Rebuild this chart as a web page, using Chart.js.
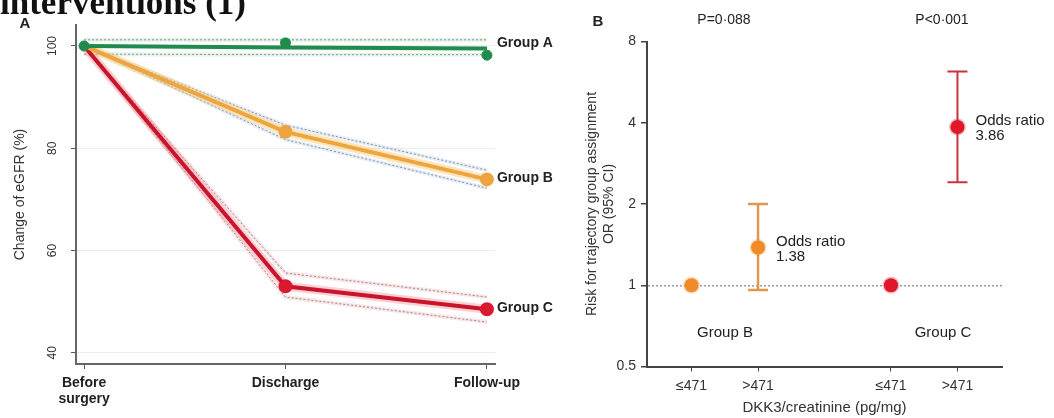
<!DOCTYPE html>
<html><head><meta charset="utf-8">
<script src="https://cdn.jsdelivr.net/npm/chart.js@4.4.1/dist/chart.umd.min.js"></script>
<style>
html,body{margin:0;padding:0;background:#fff;width:1054px;height:418px;overflow:hidden;position:relative;font-family:"Liberation Sans",Arial,sans-serif}
#title{position:absolute;left:0;top:-15px;font:bold 35px/35px "Liberation Serif","Times New Roman",serif;color:#111;white-space:nowrap;z-index:2}
#wa{position:absolute;left:0;top:0;width:560px;height:418px}
#wb{position:absolute;left:560px;top:0;width:494px;height:418px}
</style></head><body>
<div id="title">interventions (1)</div>
<div id="wa"><canvas id="ca" width="560" height="418"></canvas></div>
<div id="wb"><canvas id="cb" width="494" height="418"></canvas></div>
<script>
// ---------- Panel A data ----------
const timepoints = [['Before', 'surgery'], 'Discharge', 'Follow-up'];
const timeIndex = [0, 1, 2];
const groupNamesA = ['Group A', 'Group B', 'Group C'];
const groupATrend = [100, 99.7, 99.5];
const groupAObserved = [100, 100.6, 98.2];
const groupAUpper = [101.2, 101.2, 101.2];
const groupALower = [98.4, 98.3, 98.3];
const groupB = [100, 83.2, 73.9];
const groupBUpper = [100, 84.5, 75.7];
const groupBLower = [100, 81.7, 72.2];
const groupC = [100, 53.0, 48.5];
const groupCUpper = [100, 55.6, 50.9];
const groupCLower = [100, 50.9, 46.0];
const yTicksA = [40, 60, 80, 100];

// ---------- Panel B data ----------
const dkkLabels = ['\u2264471', '>471', '\u2264471', '>471'];
const dkkIndex = [0, 1, 3, 4];
const groupBOR = [1, 1.38];
const groupBLow = [null, 0.96];
const groupBHigh = [null, 2.0];
const groupCOR = [1, 3.86];
const groupCLow = [null, 2.41];
const groupCHigh = [null, 6.2];
const yTicksB = [0.5, 1, 2, 4, 8];
const pValues = ['P=0\u00b7088', 'P<0\u00b7001'];
const panelBGroups = ['Group B', 'Group C'];

const FONT = '"Liberation Sans", Arial, sans-serif';
Chart.defaults.font.family = FONT;
Chart.defaults.animation = false;

const pts = (xs, ys) => xs.map((x, i) => ({x: x, y: ys[i]}));

const GREEN = '#1f8b4c', ORANGE = '#eea43f', RED = '#c8142c', REDPT = '#d91a2e';

function ciSets(arr, halo, order) {
  return [
    {data: pts(timeIndex, arr), borderColor: '#8d8d8d', borderWidth: 1, borderDash: [2, 2], pointRadius: 0, order: order},
    {data: pts(timeIndex, arr), borderColor: halo, borderWidth: 4, pointRadius: 0, order: order + 1}
  ];
}

const labelsA = {
  id: 'labelsA',
  afterDraw(chart) {
    const {ctx, scales: {x, y}} = chart;
    ctx.save();
    ctx.fillStyle = '#222';
    ctx.textBaseline = 'middle';
    ctx.textAlign = 'left';
    ctx.font = 'bold 14px ' + FONT;
    const ends = [groupATrend, groupB, groupC];
    const dy = [-5, -1, -1];
    ends.forEach((arr, i) => {
      ctx.fillText(groupNamesA[i], x.getPixelForValue(timeIndex[2]) + 10, y.getPixelForValue(arr[2]) + dy[i]);
    });
    ctx.font = 'bold 15px ' + FONT;
    ctx.textAlign = 'center';
    ctx.fillText('A', 25, 24);
    ctx.restore();
  }
};

new Chart(document.getElementById('ca'), {
  type: 'line',
  data: {
    datasets: [
      {data: pts(timeIndex, groupAObserved), showLine: false, pointRadius: 5, pointBackgroundColor: GREEN, pointBorderColor: GREEN, borderColor: GREEN, order: 0},
      {data: pts(timeIndex, groupATrend), borderColor: GREEN, borderWidth: 4, pointRadius: 0, order: 1},
      {data: pts(timeIndex, groupB), borderColor: ORANGE, borderWidth: 4, pointRadius: [0, 5, 5], pointBackgroundColor: ORANGE, pointBorderColor: ORANGE, order: 2},
      {data: pts(timeIndex, groupC), borderColor: RED, borderWidth: 4, pointRadius: [0, 5, 5], pointBackgroundColor: REDPT, pointBorderColor: REDPT, order: 3},
      {data: pts(timeIndex, groupB), borderColor: 'rgba(246,200,110,0.45)', borderWidth: 9, pointRadius: 0, order: 4},
      {data: pts(timeIndex, groupC), borderColor: 'rgba(240,120,130,0.35)', borderWidth: 9, pointRadius: 0, order: 5},
      ...ciSets(groupAUpper, 'rgba(150,210,170,0.25)', 6),
      ...ciSets(groupALower, 'rgba(150,210,170,0.25)', 6),
      ...ciSets(groupBUpper, 'rgba(170,200,235,0.3)', 6),
      ...ciSets(groupBLower, 'rgba(170,200,235,0.3)', 6),
      ...ciSets(groupCUpper, 'rgba(245,170,175,0.3)', 6),
      ...ciSets(groupCLower, 'rgba(245,170,175,0.3)', 6)
    ]
  },
  options: {
    responsive: false,
    events: [],
    layout: {padding: {left: 0, top: 25, right: 65, bottom: 0}},
    plugins: {legend: {display: false}, tooltip: {enabled: false}},
    scales: {
      x: {
        type: 'linear', min: -0.04, max: 2.04,
        afterBuildTicks: s => { s.ticks = timeIndex.map(v => ({value: v})); },
        ticks: {callback: (v, i) => timepoints[i], color: '#222', font: {size: 14, weight: 'bold', lineHeight: 1.15}, padding: 6, maxRotation: 0, autoSkip: false},
        grid: {drawOnChartArea: false, tickLength: 5, tickColor: '#555'},
        border: {color: '#666', width: 2},
        afterFit: s => { s.height = 54; }
      },
      y: {
        type: 'linear', min: 37.8, max: 104.1,
        afterBuildTicks: s => { s.ticks = yTicksA.map(v => ({value: v})); },
        ticks: {minRotation: 90, maxRotation: 90, crossAlign: 'center', padding: 8, color: '#333', font: {size: 12}},
        grid: {color: '#ececec', tickColor: '#555', tickLength: 5},
        border: {color: '#666', width: 2},
        title: {display: true, text: 'Change of eGFR (%)', color: '#333', font: {size: 14}, padding: {top: 12, bottom: 0}},
        afterFit: s => { s.width = 76; }
      }
    }
  },
  plugins: [labelsA]
});

// ---------- Panel B ----------
const labelsB = {
  id: 'labelsB',
  afterDraw(chart) {
    const {ctx, scales: {x, y}} = chart;
    ctx.save();
    ctx.fillStyle = '#222';
    ctx.textBaseline = 'middle';
    ctx.font = 'bold 15px ' + FONT;
    ctx.textAlign = 'center';
    ctx.fillText('B', 38, 22);
    ctx.font = '14px ' + FONT;
    ctx.fillText(pValues[0], 164, 20);
    ctx.fillText(pValues[1], 382, 20);
    ctx.font = '15px ' + FONT;
    ctx.fillText(panelBGroups[0], 165, 333);
    ctx.fillText(panelBGroups[1], 383, 333);
    ctx.textAlign = 'left';
    const ors = [[dkkIndex[1], groupBOR[1]], [dkkIndex[3], groupCOR[1]]];
    ors.forEach(([xv, yv]) => {
      const px = x.getPixelForValue(xv) + 18, py = y.getPixelForValue(yv);
      ctx.fillText('Odds ratio', px, py - 6);
      ctx.fillText(yv.toFixed(2), px, py + 9);
    });
    ctx.restore();
  }
};

new Chart(document.getElementById('cb'), {
  type: 'line',
  data: {
    datasets: [
      {data: pts(dkkIndex.slice(0, 2), groupBOR), showLine: false, pointRadius: 7, pointBackgroundColor: '#f08c28', pointBorderColor: 'rgba(240,140,40,0.3)', pointBorderWidth: 3, order: 0},
      {data: pts(dkkIndex.slice(2, 4), groupCOR), showLine: false, pointRadius: 7, pointBackgroundColor: '#e0182a', pointBorderColor: 'rgba(224,24,42,0.3)', pointBorderWidth: 3, order: 0},
      {data: [{x: dkkIndex[1], y: groupBLow[1]}, {x: dkkIndex[1], y: groupBHigh[1]}], borderColor: '#e2964c', borderWidth: 2.5, pointStyle: 'line', pointRadius: 10, pointBorderWidth: 2.5, pointBorderColor: '#e2964c', order: 1},
      {data: [{x: dkkIndex[3], y: groupCLow[1]}, {x: dkkIndex[3], y: groupCHigh[1]}], borderColor: '#c9333f', borderWidth: 2, pointStyle: 'line', pointRadius: 10, pointBorderWidth: 2, pointBorderColor: '#c9333f', order: 1}
    ]
  },
  options: {
    responsive: false,
    events: [],
    layout: {padding: {left: 0, top: 41.5, right: 52, bottom: 0}},
    plugins: {legend: {display: false}, tooltip: {enabled: false}},
    scales: {
      x: {
        type: 'linear', min: -0.67, max: 4.67,
        afterBuildTicks: s => { s.ticks = dkkIndex.map(v => ({value: v})); },
        ticks: {callback: (v, i) => dkkLabels[i], color: '#333', font: {size: 14, lineHeight: 1.2}, padding: 6, maxRotation: 0, autoSkip: false},
        grid: {drawOnChartArea: false, tickLength: 5, tickColor: '#444'},
        border: {color: '#444', width: 2},
        title: {display: true, text: 'DKK3/creatinine (pg/mg)', color: '#333', font: {size: 15}, padding: {top: 0, bottom: 1}},
        afterFit: s => { s.height = 51.5; }
      },
      y: {
        type: 'logarithmic', min: 0.5, max: 8,
        afterBuildTicks: s => { s.ticks = yTicksB.map(v => ({value: v})); },
        ticks: {callback: v => String(v), color: '#333', font: {size: 14}, padding: 5},
        grid: {color: c => (c.tick && c.tick.value === 1) ? '#9a9a9a' : 'rgba(0,0,0,0)', lineWidth: 1.5, tickColor: '#444', tickLength: 6, tickBorderDash: []},
        border: {color: '#444', width: 2, dash: [2, 2]},
        title: {display: true, text: ['Risk for trajectory group assignment', 'OR (95% CI)'], color: '#333', font: {size: 14, lineHeight: 1.2}, padding: {top: 24, bottom: 0}},
        afterFit: s => { s.width = 87; }
      }
    }
  },
  plugins: [labelsB]
});
</script>
</body></html>
